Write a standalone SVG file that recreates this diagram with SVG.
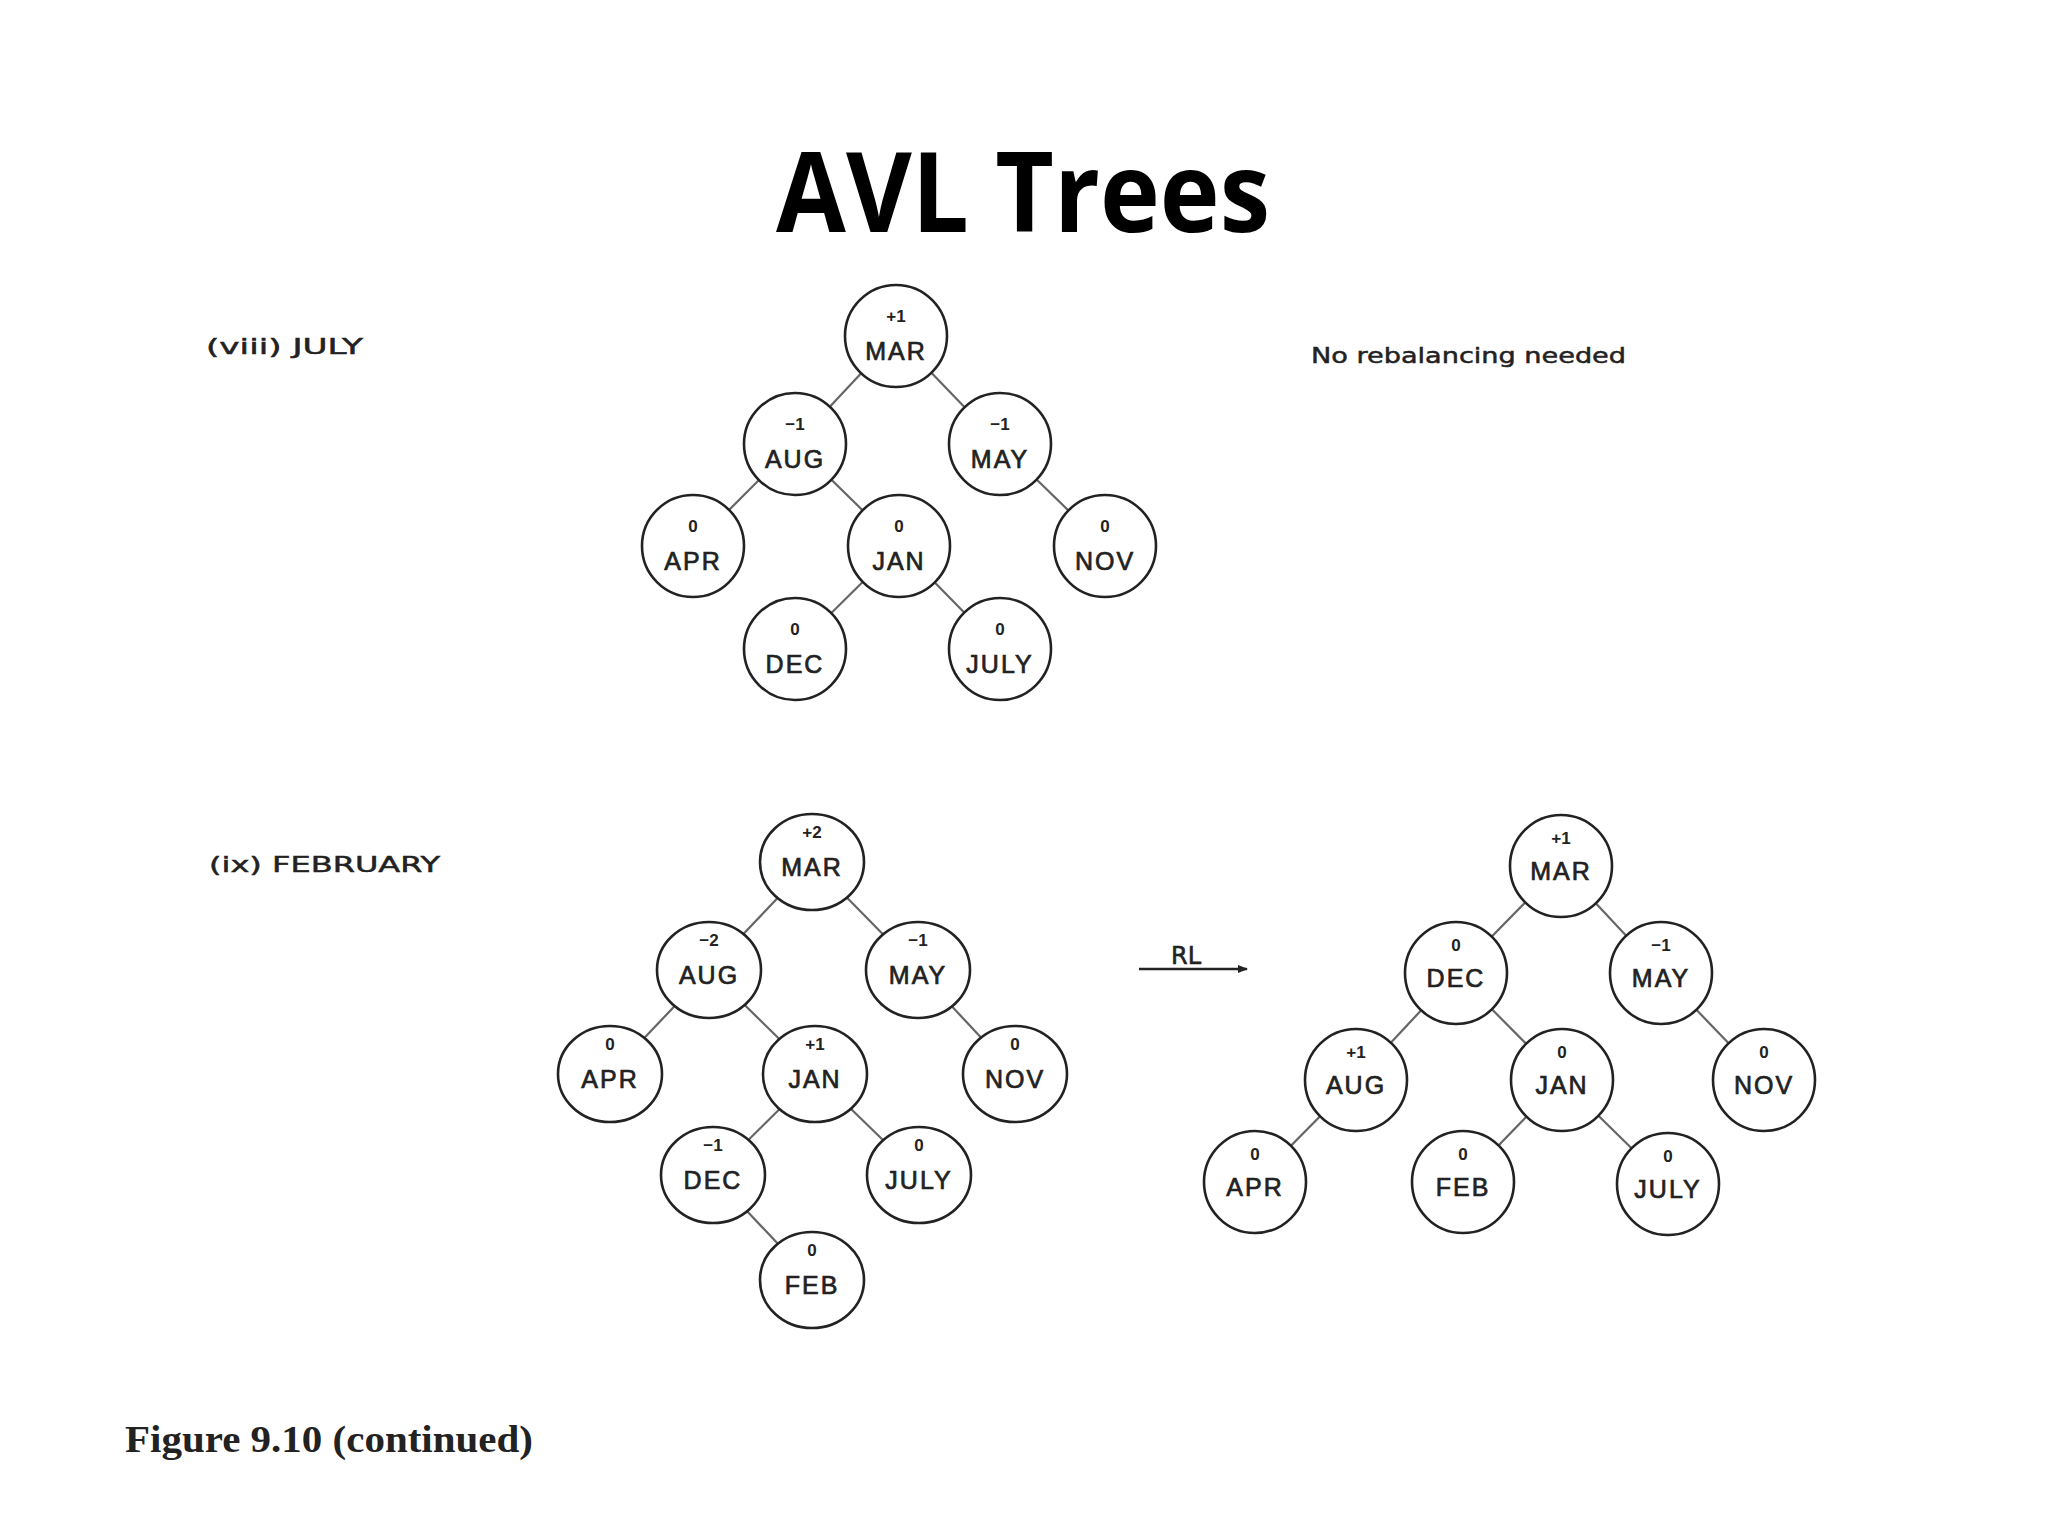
<svg xmlns="http://www.w3.org/2000/svg" width="2048" height="1536" viewBox="0 0 2048 1536">
<style>
.edge{stroke:#666;stroke-width:2.2;fill:none}
.node circle,.node ellipse{fill:#fff;stroke:#222;stroke-width:2.6}
.nm{font-family:"Liberation Sans",Arial,sans-serif;font-size:25px;fill:#222;stroke:#222;stroke-width:0.7;text-anchor:middle;letter-spacing:2px}
.bf{font-family:"Liberation Sans",Arial,sans-serif;font-size:17px;fill:#222;text-anchor:middle;font-weight:bold}
.lbl{font-family:"DejaVu Sans",sans-serif;font-size:22px;fill:#222;stroke:#222;stroke-width:0.5}
</style>
<defs>
<marker id="ah" markerWidth="10" markerHeight="8" refX="9" refY="4" orient="auto" markerUnits="userSpaceOnUse">
<path d="M0,0 L10,4 L0,8 z" fill="#222"/>
</marker>
</defs>
<rect width="2048" height="1536" fill="#fff"/>
<text x="1023" y="232" text-anchor="middle" font-family="Open Sans, Lato, sans-serif" font-weight="bold" font-size="112" textLength="494" lengthAdjust="spacingAndGlyphs" fill="#000">AVL Trees</text>
<text class="lbl" x="206" y="354" textLength="157" lengthAdjust="spacingAndGlyphs">(viii) JULY</text>
<text class="lbl" x="1311" y="363" textLength="315" lengthAdjust="spacingAndGlyphs">No rebalancing  needed</text>
<text class="lbl" x="209" y="872" textLength="231" lengthAdjust="spacingAndGlyphs">(ix) FEBRUARY</text>
<text x="125" y="1452" font-family="Liberation Serif, Times New Roman, serif" font-weight="bold" font-size="37" textLength="408" lengthAdjust="spacingAndGlyphs" fill="#222">Figure 9.10 (continued)</text>

<g id="connectors">
<!-- tree 1 -->
<line class="edge" x1="896" y1="336" x2="795" y2="444"/>
<line class="edge" x1="896" y1="336" x2="1000" y2="444"/>
<line class="edge" x1="795" y1="444" x2="693" y2="546"/>
<line class="edge" x1="795" y1="444" x2="899" y2="546"/>
<line class="edge" x1="1000" y1="444" x2="1105" y2="546"/>
<line class="edge" x1="899" y1="546" x2="795" y2="649"/>
<line class="edge" x1="899" y1="546" x2="1000" y2="649"/>
<!-- tree 2 -->
<line class="edge" x1="812" y1="862" x2="709" y2="970"/>
<line class="edge" x1="812" y1="862" x2="918" y2="970"/>
<line class="edge" x1="709" y1="970" x2="610" y2="1074"/>
<line class="edge" x1="709" y1="970" x2="815" y2="1074"/>
<line class="edge" x1="918" y1="970" x2="1015" y2="1074"/>
<line class="edge" x1="815" y1="1074" x2="713" y2="1175"/>
<line class="edge" x1="815" y1="1074" x2="919" y2="1175"/>
<line class="edge" x1="713" y1="1175" x2="812" y2="1280"/>
<!-- tree 3 -->
<line class="edge" x1="1561" y1="866" x2="1456" y2="973"/>
<line class="edge" x1="1561" y1="866" x2="1661" y2="973"/>
<line class="edge" x1="1456" y1="973" x2="1356" y2="1080"/>
<line class="edge" x1="1456" y1="973" x2="1562" y2="1080"/>
<line class="edge" x1="1661" y1="973" x2="1764" y2="1080"/>
<line class="edge" x1="1356" y1="1080" x2="1255" y2="1182"/>
<line class="edge" x1="1562" y1="1080" x2="1463" y2="1182"/>
<line class="edge" x1="1562" y1="1080" x2="1668" y2="1184"/>
<!-- RL arrow -->
<line x1="1139" y1="969" x2="1247" y2="969" stroke="#222" stroke-width="2.6" marker-end="url(#ah)"/>
</g>
<text x="1186" y="964" text-anchor="middle" font-family="DejaVu Sans, sans-serif" font-size="24" fill="#222" stroke="#222" stroke-width="0.6">RL</text>

<!-- tree 1 nodes -->
<g id="t1-mar" class="node"><circle cx="896" cy="336" r="51"/><text class="bf" x="896" y="322">+1</text><text class="nm" x="896" y="360">MAR</text></g>
<g id="t1-aug" class="node"><circle cx="795" cy="444" r="51"/><text class="bf" x="795" y="430">−1</text><text class="nm" x="795" y="468">AUG</text></g>
<g id="t1-may" class="node"><circle cx="1000" cy="444" r="51"/><text class="bf" x="1000" y="430">−1</text><text class="nm" x="1000" y="468">MAY</text></g>
<g id="t1-apr" class="node"><circle cx="693" cy="546" r="51"/><text class="bf" x="693" y="532">0</text><text class="nm" x="693" y="570">APR</text></g>
<g id="t1-jan" class="node"><circle cx="899" cy="546" r="51"/><text class="bf" x="899" y="532">0</text><text class="nm" x="899" y="570">JAN</text></g>
<g id="t1-nov" class="node"><circle cx="1105" cy="546" r="51"/><text class="bf" x="1105" y="532">0</text><text class="nm" x="1105" y="570">NOV</text></g>
<g id="t1-dec" class="node"><circle cx="795" cy="649" r="51"/><text class="bf" x="795" y="635">0</text><text class="nm" x="795" y="673">DEC</text></g>
<g id="t1-july" class="node"><circle cx="1000" cy="649" r="51"/><text class="bf" x="1000" y="635">0</text><text class="nm" x="1000" y="673">JULY</text></g>

<!-- tree 2 nodes -->
<g id="t2-mar" class="node"><ellipse cx="812" cy="862" rx="52" ry="48"/><text class="bf" x="812" y="838">+2</text><text class="nm" x="812" y="876">MAR</text></g>
<g id="t2-aug" class="node"><ellipse cx="709" cy="970" rx="52" ry="48"/><text class="bf" x="709" y="946">−2</text><text class="nm" x="709" y="984">AUG</text></g>
<g id="t2-may" class="node"><ellipse cx="918" cy="970" rx="52" ry="48"/><text class="bf" x="918" y="946">−1</text><text class="nm" x="918" y="984">MAY</text></g>
<g id="t2-apr" class="node"><ellipse cx="610" cy="1074" rx="52" ry="48"/><text class="bf" x="610" y="1050">0</text><text class="nm" x="610" y="1088">APR</text></g>
<g id="t2-jan" class="node"><ellipse cx="815" cy="1074" rx="52" ry="48"/><text class="bf" x="815" y="1050">+1</text><text class="nm" x="815" y="1088">JAN</text></g>
<g id="t2-nov" class="node"><ellipse cx="1015" cy="1074" rx="52" ry="48"/><text class="bf" x="1015" y="1050">0</text><text class="nm" x="1015" y="1088">NOV</text></g>
<g id="t2-dec" class="node"><ellipse cx="713" cy="1175" rx="52" ry="48"/><text class="bf" x="713" y="1151">−1</text><text class="nm" x="713" y="1189">DEC</text></g>
<g id="t2-july" class="node"><ellipse cx="919" cy="1175" rx="52" ry="48"/><text class="bf" x="919" y="1151">0</text><text class="nm" x="919" y="1189">JULY</text></g>
<g id="t2-feb" class="node"><ellipse cx="812" cy="1280" rx="52" ry="48"/><text class="bf" x="812" y="1256">0</text><text class="nm" x="812" y="1294">FEB</text></g>

<!-- tree 3 nodes -->
<g id="t3-mar" class="node"><circle cx="1561" cy="866" r="51"/><text class="bf" x="1561" y="844">+1</text><text class="nm" x="1561" y="880">MAR</text></g>
<g id="t3-dec" class="node"><circle cx="1456" cy="973" r="51"/><text class="bf" x="1456" y="951">0</text><text class="nm" x="1456" y="987">DEC</text></g>
<g id="t3-may" class="node"><circle cx="1661" cy="973" r="51"/><text class="bf" x="1661" y="951">−1</text><text class="nm" x="1661" y="987">MAY</text></g>
<g id="t3-aug" class="node"><circle cx="1356" cy="1080" r="51"/><text class="bf" x="1356" y="1058">+1</text><text class="nm" x="1356" y="1094">AUG</text></g>
<g id="t3-jan" class="node"><circle cx="1562" cy="1080" r="51"/><text class="bf" x="1562" y="1058">0</text><text class="nm" x="1562" y="1094">JAN</text></g>
<g id="t3-nov" class="node"><circle cx="1764" cy="1080" r="51"/><text class="bf" x="1764" y="1058">0</text><text class="nm" x="1764" y="1094">NOV</text></g>
<g id="t3-apr" class="node"><circle cx="1255" cy="1182" r="51"/><text class="bf" x="1255" y="1160">0</text><text class="nm" x="1255" y="1196">APR</text></g>
<g id="t3-feb" class="node"><circle cx="1463" cy="1182" r="51"/><text class="bf" x="1463" y="1160">0</text><text class="nm" x="1463" y="1196">FEB</text></g>
<g id="t3-july" class="node"><circle cx="1668" cy="1184" r="51"/><text class="bf" x="1668" y="1162">0</text><text class="nm" x="1668" y="1198">JULY</text></g>
</svg>
